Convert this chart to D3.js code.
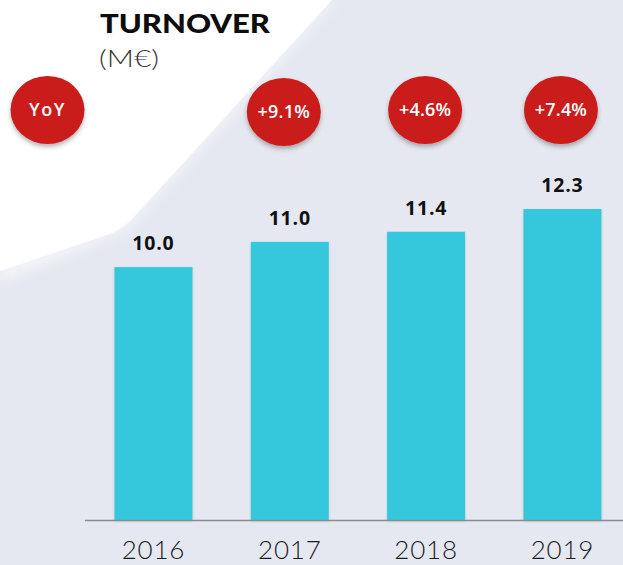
<!DOCTYPE html>
<html>
<head>
<meta charset="utf-8">
<script src="https://cdn.jsdelivr.net/npm/d3@7"></script>
<style>
  html, body { margin: 0; padding: 0; background: #e6e8f1; }
  svg { display: block; }
</style>
</head>
<body>
<script>
// ---- data ----
const years = ["2016", "2017", "2018", "2019"];
const turnover = [10.0, 11.0, 11.4, 12.3];
const growthYears = ["2017", "2018", "2019"];
const growthLabels = ["+9.1%", "+4.6%", "+7.4%"];
const yoyLabel = "YoY";
const title = "TURNOVER";
const unit = "(M€)";

const W = 623, H = 565;
const svg = d3.select("body").append("svg").attr("width", W).attr("height", H);

const defs = svg.append("defs");
const sh = defs.append("filter").attr("id", "shadow").attr("x", "-30%").attr("y", "-30%").attr("width", "160%").attr("height", "170%");
sh.append("feDropShadow").attr("dx", 0).attr("dy", 3).attr("stdDeviation", 2.2).attr("flood-color", "#333").attr("flood-opacity", 0.35);
const bsh = defs.append("filter").attr("id", "barshadow").attr("x", "-10%").attr("y", "-10%").attr("width", "120%").attr("height", "120%");
bsh.append("feDropShadow").attr("dx", 0).attr("dy", 1).attr("stdDeviation", 1).attr("flood-color", "#555").attr("flood-opacity", 0.25);
const blur = defs.append("filter").attr("id", "blur");
blur.append("feGaussianBlur").attr("stdDeviation", 6);

// background
svg.append("rect").attr("width", W).attr("height", H).attr("fill", "#e6e8f1");
svg.append("path")
  .attr("d", "M0,0 L336,0 L134,222 Q122,234 104,240 L0,282 Z")
  .attr("fill", "#f3f4f8").attr("filter", "url(#blur)");
svg.append("path")
  .attr("d", "M0,0 L332,0 L131,220 Q119,232 101,237 L0,271 Z")
  .attr("fill", "#ffffff");

// scales
const x = d3.scaleBand().domain(years).range([85.3, 630.6]).paddingInner(0.428).paddingOuter(0.214);
const y = d3.scaleLinear().domain([0, 12.3]).range([520, 209]);

// bars
svg.append("g").selectAll("rect").data(years).join("rect")
  .attr("x", d => x(d))
  .attr("y", (d, i) => y(turnover[i]))
  .attr("width", x.bandwidth())
  .attr("height", (d, i) => y(0) - y(turnover[i]))
  .attr("fill", "#34c8dc")
  .attr("filter", "url(#barshadow)");

// axis baseline
const axis = d3.axisBottom(x).tickSize(0).tickPadding(21);
const ag = svg.append("g").attr("transform", `translate(0,${y(0)})`).call(axis);
ag.select(".domain").remove();
ag.append("line").attr("x1", 85).attr("x2", W).attr("y1", 0.5).attr("y2", 0.5)
  .attr("stroke", "#8a8a8f").attr("stroke-width", 1.5);
ag.selectAll(".tick text")
  .attr("font-family", "Lato, 'Open Sans', sans-serif")
  .attr("font-size", 26).attr("font-weight", 300).attr("fill", "#1a1a1a")
  .attr("letter-spacing", 0.8)
  .attr("dy", "0.71em");

// value labels
svg.append("g").selectAll("text").data(years).join("text")
  .attr("x", d => x(d) + x.bandwidth() / 2)
  .attr("y", (d, i) => y(turnover[i]) - 17)
  .attr("text-anchor", "middle")
  .attr("font-family", "'Open Sans', sans-serif")
  .attr("font-weight", 700).attr("font-size", 19.5).attr("fill", "#111")
  .attr("letter-spacing", 0.8)
  .text((d, i) => turnover[i].toFixed(1));

// title
svg.append("text").attr("x", 100).attr("y", 33)
  .attr("font-family", "Lato, sans-serif").attr("font-weight", 900).attr("font-size", 27)
  .attr("fill", "#0d0d0d").attr("textLength", 170).attr("lengthAdjust", "spacingAndGlyphs")
  .text(title);
svg.append("text").attr("x", 99).attr("y", 67)
  .attr("font-family", "Lato, sans-serif").attr("font-weight", 300).attr("font-size", 23)
  .attr("fill", "#333").attr("textLength", 60).attr("lengthAdjust", "spacingAndGlyphs")
  .text(unit);

// badges
const badgeOffsets = { "2017": [-6, 112], "2018": [-1, 110], "2019": [-1.5, 110] };
const badges = [{ label: yoyLabel, cx: 47.5, cy: 110 }].concat(
  growthYears.map((yr, i) => ({
    label: growthLabels[i],
    cx: x(yr) + x.bandwidth() / 2 + badgeOffsets[yr][0],
    cy: badgeOffsets[yr][1]
  }))
);
const bg = svg.append("g").selectAll("g").data(badges).join("g")
  .attr("transform", d => `translate(${d.cx},${d.cy})`);
bg.append("ellipse").attr("rx", 37).attr("ry", 34).attr("fill", "#cb1d1c").attr("filter", "url(#shadow)");
bg.append("text").attr("text-anchor", "middle").attr("dy", "0.36em")
  .attr("font-family", "'Open Sans', sans-serif").attr("font-weight", 600).attr("font-size", 18)
  .attr("letter-spacing", d => d.label === yoyLabel ? 1.5 : 0.2)
  .attr("fill", "#ffffff")
  .text(d => d.label);
</script>
</body>
</html>
